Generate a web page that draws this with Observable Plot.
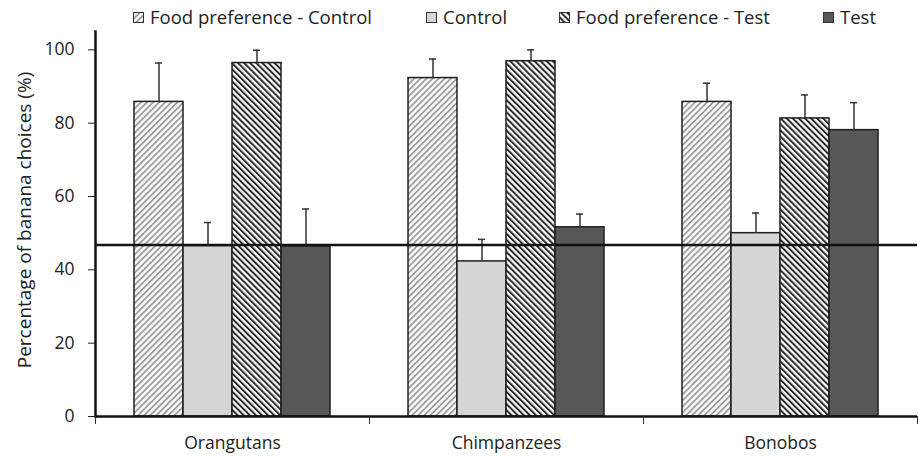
<!DOCTYPE html>
<html><head><meta charset="utf-8">
<script src="https://cdn.jsdelivr.net/npm/d3@7"></script>
<script src="https://cdn.jsdelivr.net/npm/@observablehq/plot@0.6"></script>
<style>
body{margin:0;background:#fff;font-family:"Open Sans",sans-serif;}
#legend{position:relative;height:28px;width:918px;}
.item{position:absolute;top:5px;display:flex;align-items:center;font-size:18.5px;color:#222;white-space:nowrap;line-height:24px;}
.item svg{margin-right:6px;}
</style></head><body>
<svg width="0" height="0" style="position:absolute">
  <defs>
    <pattern id="hatchFPC" patternUnits="userSpaceOnUse" width="4.3" height="4.3" patternTransform="rotate(45)">
      <rect width="4.3" height="4.3" fill="#fff"/>
      <line x1="1" y1="0" x2="1" y2="4.3" stroke="#999" stroke-width="1.8"/>
    </pattern>
    <pattern id="hatchFPT" patternUnits="userSpaceOnUse" width="4.3" height="4.3" patternTransform="rotate(-45)">
      <rect width="4.3" height="4.3" fill="#fff"/>
      <line x1="1" y1="0" x2="1" y2="4.3" stroke="#2a2a2a" stroke-width="2"/>
    </pattern>
  </defs>
</svg>
<div id="legend"></div>
<div id="chart"></div>
<script>
const groups = ["Orangutans", "Chimpanzees", "Bonobos"];
const series = ["Food preference - Control", "Control", "Food preference - Test", "Test"];
const fpControl = [85.8, 92.3, 85.8];
const fpControlErr = [10.6, 5.2, 5.1];
const control = [46.5, 42.3, 50.0];
const controlErr = [6.4, 6.0, 5.5];
const fpTest = [96.4, 96.9, 81.3];
const fpTestErr = [3.5, 3.1, 6.4];
const test = [46.4, 51.6, 78.1];
const testErr = [10.2, 3.6, 7.5];
const chance = 46.8;
const yTicks = [0, 20, 40, 60, 80, 100];
const yLabel = "Percentage of banana choices (%)";

const fills = ["url(#hatchFPC)", "#d6d6d6", "url(#hatchFPT)", "#575757"];
const values = [fpControl, control, fpTest, test];
const errors = [fpControlErr, controlErr, fpTestErr, testErr];

const data = groups.flatMap((g, i) => series.map((s, j) => ({
  group: g, series: s, value: values[j][i], err: errors[j][i]
})));

// legend
const legendPos = [133, 426, 559, 823];
const legend = document.getElementById("legend");
series.forEach((s, j) => {
  const item = document.createElement("div");
  item.className = "item";
  item.style.left = legendPos[j] + "px";
  item.innerHTML = `<svg width="11" height="11"><rect x="0.5" y="0.5" width="10" height="10" fill="${fills[j]}" stroke="#333" stroke-width="1"/></svg><span>${s}</span>`;
  legend.appendChild(item);
});

const plot = Plot.plot({
  width: 918,
  height: 428,
  marginLeft: 94,
  marginRight: 0,
  marginTop: 3,
  marginBottom: 40,
  style: {fontFamily: '"Open Sans", sans-serif', fontSize: "17.5px", color: "#222", background: "#fff"},
  fx: {domain: groups, padding: 0, label: null, tickSize: 0, tickPadding: 20, axis: "bottom"},
  x: {domain: series, paddingInner: 0, paddingOuter: 0.7467, axis: null},
  y: {domain: [0, 105], ticks: yTicks, tickSize: 7, tickPadding: 14, label: yLabel, labelAnchor: "center", labelOffset: 78, labelArrow: "none", line: true},
  color: {domain: series, range: fills},
  marks: [
    Plot.barY(data, {fx: "group", x: "series", y: "value", fill: "series", stroke: "#1e1e1e", strokeWidth: 1.5}),
    Plot.ruleX(data, {fx: "group", x: "series", y1: "value", y2: d => d.value + d.err, stroke: "#333", strokeWidth: 1.5}),
    Plot.tickY(data, {fx: "group", x: "series", y: d => d.value + d.err, stroke: "#333", strokeWidth: 1.5, insetLeft: 21, insetRight: 21}),
    Plot.ruleY([0], {stroke: "#111", strokeWidth: 2.5}),
    Plot.ruleY([chance], {stroke: "#111", strokeWidth: 2.5}),
    Plot.frame({anchor: "left", insetTop: 385, insetBottom: -7, stroke: "#333", strokeWidth: 1}),
    Plot.frame({anchor: "right", insetTop: 385, insetBottom: -7, stroke: "#333", strokeWidth: 1})
  ]
});
document.getElementById("chart").appendChild(plot);
const svg = d3.select(plot);
svg.selectAll("text").style("font-size", "17.5px").style("fill", "#222");
let labelNode = null;
svg.selectAll("text").each(function() { if (this.textContent === yLabel) labelNode = this; });
if (labelNode) d3.select(labelNode).style("font-size", "19px").attr("dx", 4);
// thicken the y-axis line drawn by the axis option
svg.selectAll("line").each(function() {
  const b = this.getBBox();
  if (b.width < 1 && b.height > 300) d3.select(this).attr("stroke-width", 2.5).attr("stroke", "#111");
});
</script>
</body></html>
